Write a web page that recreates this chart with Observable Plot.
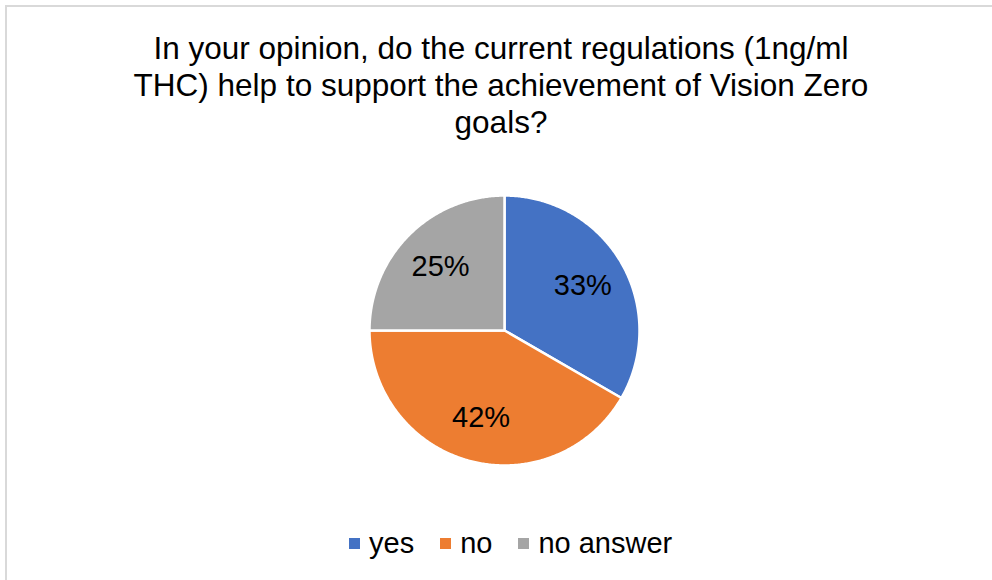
<!DOCTYPE html>
<html>
<head>
<meta charset="utf-8">
<script src="https://cdn.jsdelivr.net/npm/d3@7"></script>
<script src="https://cdn.jsdelivr.net/npm/@observablehq/plot@0.6"></script>
<style>
  html, body { margin: 0; padding: 0; background: #fff; overflow: hidden; }
  body { width: 992px; height: 580px; position: relative; font-family: "Liberation Sans", Arial, sans-serif; }
  #frame { position: absolute; left: 5px; top: 5px; width: 1100px; height: 700px; border: 2px solid #d9d9d9; box-sizing: border-box; }
  #title { position: absolute; left: 101px; width: 800px; top: 30px; text-align: center; font-size: 31.5px; line-height: 37px; color: #000; }
  #pie { position: absolute; left: 367px; top: 193px; }
  #legend { position: absolute; left: 349px; top: 527px; }
  .lg-swatches-wrap { min-height: 33px !important; margin: 0 !important; }
  .lg-swatch { margin-right: 26px !important; font-size: 29px; line-height: 33px; color: #000; }
  .lg-swatch > svg { margin-right: 9px !important; }
</style>
</head>
<body>
<div id="frame"></div>
<div id="title"></div>
<div id="pie"></div>
<div id="legend"></div>
<script>
const titleLines = ["In your opinion, do the current regulations (1ng/ml", "THC) help to support the achievement of Vision Zero", "goals?"];
const categories = ["yes", "no", "no answer"];
const counts = [4, 5, 3];
const labels = ["33%", "42%", "25%"];
const colors = ["#4472C4", "#ED7D31", "#A5A5A5"];

document.getElementById("title").innerHTML = titleLines.join("<br>");

const arcs = d3.pie().sort(null).value(d => d)(counts);

const slicePts = [];
const labelPts = [];
arcs.forEach((a, i) => {
  const cat = categories[i];
  slicePts.push({cat, x: 0, y: 0});
  const n = Math.max(2, Math.ceil((a.endAngle - a.startAngle) / (Math.PI / 360)));
  for (let k = 0; k <= n; k++) {
    const t = a.startAngle + (a.endAngle - a.startAngle) * k / n;
    slicePts.push({cat, x: Math.sin(t), y: Math.cos(t)});
  }
  slicePts.push({cat, x: 0, y: 0});
  const m = (a.startAngle + a.endAngle) / 2;
  labelPts.push({cat, label: labels[i], x: 0.67 * Math.sin(m), y: 0.67 * Math.cos(m)});
});

const colorScale = {domain: categories, range: colors};

const chart = Plot.plot({
  width: 274,
  height: 274,
  margin: 0,
  x: {domain: [-1, 1], range: [2, 272], axis: null},
  y: {domain: [-1, 1], range: [272, 2], axis: null},
  color: colorScale,
  style: {fontFamily: "Liberation Sans, Arial, sans-serif", overflow: "visible"},
  marks: [
    Plot.line(slicePts, {x: "x", y: "y", z: "cat", fill: "cat", stroke: "white", strokeWidth: 2.5, curve: "linear-closed"}),
    Plot.text(labelPts, {x: "x", y: "y", text: "label", fontSize: 29, fill: "black"})
  ]
});
document.getElementById("pie").appendChild(chart);

const legend = Plot.legend({
  color: {type: "ordinal", ...colorScale},
  swatchSize: 11,
  className: "lg",
  style: {fontFamily: "Liberation Sans, Arial, sans-serif", fontSize: "29px", color: "#000"}
});
document.getElementById("legend").appendChild(legend);
</script>
</body>
</html>
